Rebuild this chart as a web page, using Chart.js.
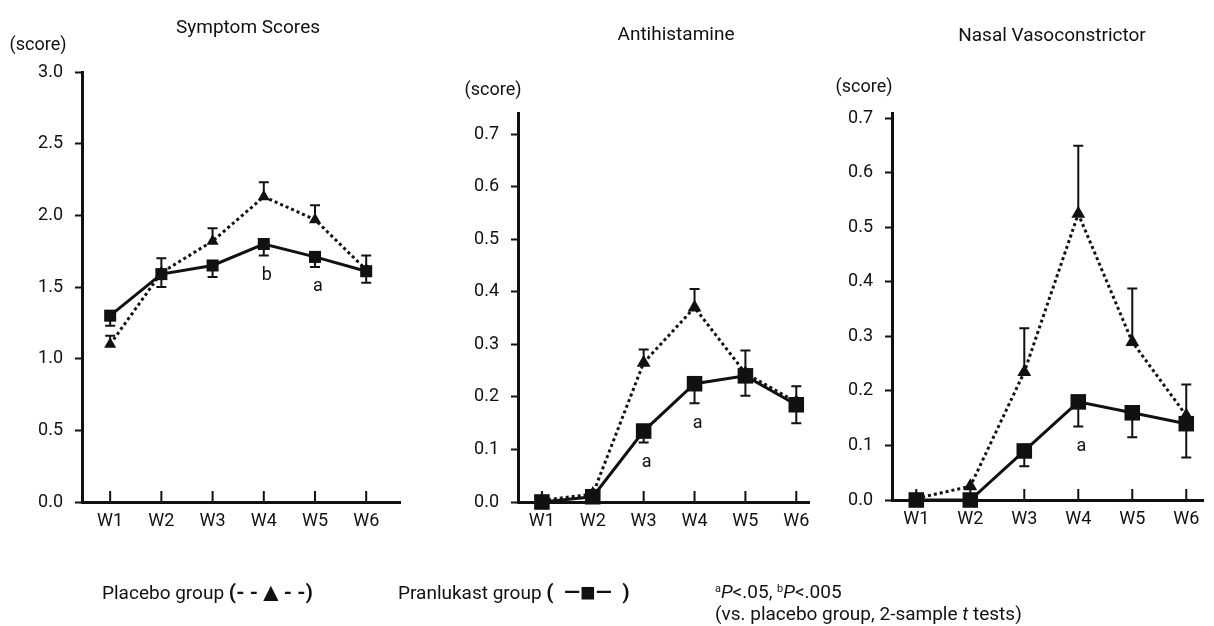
<!DOCTYPE html>
<html>
<head>
<meta charset="utf-8">
<script src="https://cdn.jsdelivr.net/npm/chart.js@4.4.1/dist/chart.umd.min.js"></script>
<style>
  body { margin: 0; background: #fff; width: 1214px; height: 626px; position: relative; overflow: hidden; font-family: Roboto, sans-serif; color: #111; }
  canvas { position: absolute; top: 0; }
  .t { position: absolute; white-space: nowrap; transform: translate(-50%, -50%); font-size: 19px; }
  .l { position: absolute; white-space: nowrap; transform: translateY(-50%); font-size: 19px; }
  .l b { font-weight: bold; font-size: 21px; }
  .l .m { font-size: 26px; vertical-align: -2px; }
  sup { font-size: 11px; vertical-align: 6px; }
</style>
</head>
<body>
<canvas id="c1" width="410" height="626" style="left:0"></canvas>
<canvas id="c2" width="400" height="626" style="left:420px"></canvas>
<canvas id="c3" width="394" height="626" style="left:820px"></canvas>

<div class="t" style="left:248px;top:26px">Symptom Scores</div>
<div class="t" style="left:676px;top:33px">Antihistamine</div>
<div class="t" style="left:1052px;top:34px">Nasal Vasoconstrictor</div>
<div class="t" style="left:38px;top:43px;font-size:18px">(score)</div>
<div class="t" style="left:493px;top:88px;font-size:18px">(score)</div>
<div class="t" style="left:864px;top:85px;font-size:18px">(score)</div>

<div class="l" style="left:102px;top:592px">Placebo group <b>(- -<span class="m">▲</span>- -)</b></div>
<div class="l" style="left:398px;top:592px">Pranlukast group <b>(&nbsp;&nbsp;—<span class="m">■</span>—&nbsp;&nbsp;)</b></div>
<div class="l" style="left:715px;top:591px"><sup>a</sup><i>P</i>&lt;.05, <sup>b</sup><i>P</i>&lt;.005</div>
<div class="l" style="left:715px;top:613px">(vs. placebo group, 2-sample <i>t</i> tests)</div>

<script>
var weeks = ['W1', 'W2', 'W3', 'W4', 'W5', 'W6'];

// Symptom Scores
var symPlacebo   = [1.10, 1.60, 1.82, 2.13, 1.97, 1.62];
var symPlaceboSE = [0.06, 0.10, 0.09, 0.10, 0.10, 0.10];
var symPran      = [1.30, 1.59, 1.65, 1.80, 1.71, 1.61];
var symPranSE    = [0.07, 0.09, 0.08, 0.08, 0.07, 0.08];
var symSig       = ['', '', '', 'b', 'a', ''];
var symTicks     = [0, 0.5, 1.0, 1.5, 2.0, 2.5, 3.0];

// Antihistamine
var antiPlacebo   = [0.003, 0.015, 0.265, 0.37, 0.245, 0.19];
var antiPlaceboSE = [0, 0, 0.025, 0.035, 0.043, 0.03];
var antiPran      = [0, 0.01, 0.135, 0.225, 0.24, 0.185];
var antiPranSE    = [0, 0, 0.022, 0.037, 0.038, 0.035];
var antiSig       = ['', '', 'a', 'a', '', ''];
var antiTicks     = [0, 0.1, 0.2, 0.3, 0.4, 0.5, 0.6, 0.7];

// Nasal Vasoconstrictor
var nasPlacebo   = [0.003, 0.025, 0.235, 0.525, 0.29, 0.155];
var nasPlaceboSE = [0, 0, 0.08, 0.125, 0.098, 0.057];
var nasPran      = [0, 0, 0.09, 0.18, 0.16, 0.14];
var nasPranSE    = [0, 0, 0.028, 0.045, 0.045, 0.062];
var nasSig       = ['', '', '', 'a', '', ''];
var nasTicks     = [0, 0.1, 0.2, 0.3, 0.4, 0.5, 0.6, 0.7];

var ink = '#111';
Chart.defaults.font.family = 'Roboto, sans-serif';
Chart.defaults.color = ink;

function pts(arr) {
  return arr.map(function (v, i) { return { x: i + 1, y: v }; });
}

// error bars: placebo up, pranlukast down
var errorBars = {
  id: 'errorBars',
  beforeDatasetsDraw: function (chart) {
    var ctx = chart.ctx, xs = chart.scales.x, ys = chart.scales.y;
    ctx.save();
    ctx.strokeStyle = ink;
    ctx.lineWidth = 2;
    chart.data.datasets.forEach(function (ds) {
      ds.se.forEach(function (e, i) {
        if (!e) return;
        var px = xs.getPixelForValue(i + 1);
        var y0 = ys.getPixelForValue(ds.data[i].y);
        var y1 = ys.getPixelForValue(ds.data[i].y + ds.dir * e);
        ctx.beginPath();
        ctx.moveTo(px, y0); ctx.lineTo(px, y1);
        ctx.moveTo(px - 5, y1); ctx.lineTo(px + 5, y1);
        ctx.stroke();
      });
    });
    ctx.restore();
  }
};

// x tick marks pointing up into the plot
var innerTicks = {
  id: 'innerTicks',
  afterDraw: function (chart) {
    var ctx = chart.ctx, xs = chart.scales.x;
    ctx.save();
    ctx.strokeStyle = ink;
    ctx.lineWidth = 2;
    ctx.beginPath();
    xs.ticks.forEach(function (t) {
      var px = xs.getPixelForValue(t.value);
      ctx.moveTo(px, xs.top);
      ctx.lineTo(px, xs.top - 11);
    });
    ctx.stroke();
    ctx.restore();
  }
};

// significance letters under the pranlukast points
var sigLetters = {
  id: 'sigLetters',
  afterDatasetsDraw: function (chart, args, opts) {
    var ctx = chart.ctx, xs = chart.scales.x, ys = chart.scales.y;
    var ds = chart.data.datasets[0];
    ctx.save();
    ctx.fillStyle = ink;
    ctx.font = '18px Roboto, sans-serif';
    ctx.textAlign = 'center';
    ctx.textBaseline = 'middle';
    opts.labels.forEach(function (s, i) {
      if (!s) return;
      var y = ys.getPixelForValue(ds.data[i].y - ds.se[i]) + 20;
      ctx.fillText(s, xs.getPixelForValue(i + 1) + 3, y);
    });
    ctx.restore();
  }
};

function makeChart(id, cfg) {
  new Chart(document.getElementById(id), {
    type: 'line',
    data: {
      datasets: [{
        label: 'Pranlukast group',
        data: pts(cfg.pran),
        se: cfg.pranSE,
        dir: -1,
        borderColor: ink,
        borderWidth: 3,
        backgroundColor: ink,
        pointStyle: 'rect',
        pointRadius: cfg.rectR,
        pointBorderWidth: 0,
        pointBackgroundColor: ink,
        clip: false
      }, {
        label: 'Placebo group',
        data: pts(cfg.placebo),
        se: cfg.placeboSE,
        dir: 1,
        borderColor: ink,
        borderWidth: 3,
        borderDash: [3, 3],
        backgroundColor: ink,
        pointStyle: 'triangle',
        pointRadius: cfg.triR,
        pointBorderWidth: 0,
        pointBackgroundColor: ink,
        clip: false
      }]
    },
    options: {
      responsive: false,
      animation: false,
      layout: { padding: cfg.pad },
      plugins: {
        legend: { display: false },
        tooltip: { enabled: false },
        sigLetters: { labels: cfg.sig }
      },
      scales: {
        x: {
          type: 'linear',
          min: cfg.xMin,
          max: cfg.xMax,
          afterBuildTicks: function (s) {
            s.ticks = weeks.map(function (w, i) { return { value: i + 1 }; });
          },
          afterFit: function (s) { s.height = 40; },
          ticks: {
            font: { size: 18 },
            padding: 9,
            callback: function (v) { return weeks[v - 1]; }
          },
          grid: { drawOnChartArea: false, drawTicks: false },
          border: { display: true, width: 3, color: ink }
        },
        y: {
          min: 0,
          max: cfg.yMax,
          afterBuildTicks: function (s) {
            s.ticks = cfg.yTicks.map(function (v) { return { value: v }; });
          },
          afterFit: function (s) { s.width = 50; },
          ticks: {
            font: { size: 18 },
            padding: 12,
            callback: function (v) { return v.toFixed(1); }
          },
          grid: { drawOnChartArea: false, tickLength: 7, tickWidth: 2, tickColor: ink },
          border: { display: true, width: 3, color: ink }
        }
      }
    },
    plugins: [errorBars, innerTicks, sigLetters]
  });
}

makeChart('c1', {
  placebo: symPlacebo, placeboSE: symPlaceboSE, pran: symPran, pranSE: symPranSE,
  sig: symSig, yTicks: symTicks, yMax: 3.0, xMin: 0.45, xMax: 6.66,
  rectR: 8.5, triR: 7, pad: { left: 32, right: 10, top: 72, bottom: 84 }
});
makeChart('c2', {
  placebo: antiPlacebo, placeboSE: antiPlaceboSE, pran: antiPran, pranSE: antiPranSE,
  sig: antiSig, yTicks: antiTicks, yMax: 0.74, xMin: 0.53, xMax: 6.25,
  rectR: 11, triR: 8, pad: { left: 48, right: 10, top: 113, bottom: 84 }
});
makeChart('c3', {
  placebo: nasPlacebo, placeboSE: nasPlaceboSE, pran: nasPran, pranSE: nasPranSE,
  sig: nasSig, yTicks: nasTicks, yMax: 0.71, xMin: 0.55, xMax: 6.31,
  rectR: 11, triR: 8, pad: { left: 22, right: 2, top: 113, bottom: 86 }
});
</script>
</body>
</html>
